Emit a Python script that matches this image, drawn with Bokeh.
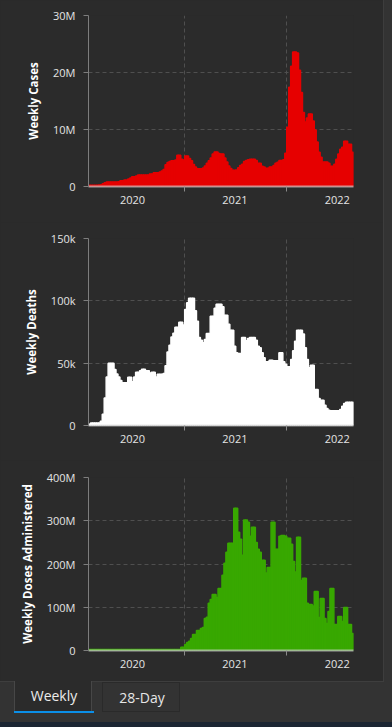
import pandas as pd
from bokeh.plotting import figure
from bokeh.models import Range1d, FixedTicker, Div, GlobalInlineStyleSheet
from bokeh.layouts import column, row
from bokeh.embed import file_html
from bokeh.resources import INLINE

# ---------------- data ----------------
week_start = "2020-01-26"   # first weekly bar

cases_m = [
    0.2, 0.2, 0.2, 0.2, 0.2, 0.25, 0.3, 0.47, 0.64, 0.8,
    0.8, 0.8, 0.8, 0.8, 0.8, 0.85, 1.0, 1.0, 1.16, 1.16,
    1.3, 1.5, 1.7, 1.7, 1.86, 2.0, 2.0, 2.0, 2.0, 2.0,
    2.0, 2.2, 2.2, 2.4, 2.4, 2.4, 2.56, 2.7, 3.0, 3.8,
    4.2, 4.4, 4.5, 4.5, 4.65, 5.5, 5.5, 4.8, 4.65, 5.35,
    5.35, 4.9, 4.5, 3.85, 3.4, 3.1, 3.1, 3.1, 3.25, 3.6,
    4.1, 4.5, 5.0, 5.7, 6.05, 6.05, 5.8, 5.7, 5.7, 5.0,
    4.3, 3.6, 3.15, 2.87, 2.87, 2.9, 3.3, 3.7, 3.9, 4.4,
    4.55, 4.7, 4.8, 4.8, 4.8, 4.55, 4.1, 4.1, 3.55, 3.4,
    3.2, 3.2, 3.4, 3.4, 3.7, 4.1, 4.25, 4.55, 4.55, 4.7,
    5.85, 10.4, 17.4, 21.1, 23.6, 23.6, 23.4, 20.4, 16.5, 13.0,
    11.3, 12.0, 12.7, 12.7, 11.5, 9.9, 7.8, 6.0, 5.15, 4.3,
    4.3, 4.3, 4.1, 3.55, 3.55, 3.9, 4.8, 5.7, 6.55, 6.9,
    7.95, 7.95, 7.4, 7.4, 6.0,
]

deaths_k = [
    1.1, 2.1, 2.1, 2.1, 2.1, 2.1, 3.5, 9, 22, 39,
    50, 50, 50, 45, 41.4, 39, 36, 34.2, 34.2, 34.2,
    38.8, 38.8, 35, 39, 42.8, 42.8, 44, 45.2, 45.2, 43.9,
    43.9, 42.2, 42.8, 42.8, 39, 41.2, 41.2, 41.2, 41.7, 47.9,
    59, 64.4, 70.9, 74, 78.9, 78.9, 82.9, 82.9, 80.7, 93,
    98.4, 102, 102, 102, 92, 83.7, 70.6, 68.4, 66.3, 69,
    73.8, 73.8, 87.7, 87.7, 94, 97.3, 97.3, 97.3, 95.2, 88.5,
    88.5, 81.3, 76.5, 76.5, 63.6, 58.3, 57.8, 57.8, 70.6, 70.6,
    67.9, 69.8, 70.6, 70.6, 70.6, 68.4, 63.6, 62.3, 58.3, 54.3,
    51.1, 51.1, 52.4, 52.4, 51.9, 51.9, 51.9, 58.3, 58.3, 51.1,
    49.2, 47.1, 47.1, 52.9, 59.9, 67.6, 76.5, 76.5, 76.5, 73.3,
    62.3, 52.9, 46.3, 48.4, 48.4, 28.9, 28.9, 21.7, 20.3, 20.3,
    16.3, 13.6, 12.3, 11.8, 11.8, 11.8, 11.8, 11.8, 12.8, 15.5,
    17.6, 18.7, 18.7, 18.7, 18.7,
]

doses_m = [
    2.5, 2.5, 2.5, 2.5, 2.5, 2.5, 2.5, 2.5, 2.5, 2.5,
    2.5, 2.5, 2.5, 2.5, 2.5, 2.5, 2.5, 2.5, 2.5, 2.5,
    2.5, 2.5, 2.5, 2.5, 2.5, 2.5, 2.5, 2.5, 2.5, 2.5,
    2.5, 2.5, 2.5, 2.5, 2.5, 2.5, 2.5, 2.5, 2.5, 2.5,
    2.5, 2.5, 2.5, 2.5, 2.5, 2.5, 2.5, 7.7, 7.7, 14,
    18.5, 21.6, 27.8, 37, 37, 46.3, 46.3, 51, 53.3, 74,
    77, 109, 118, 129.7, 129.7, 122.8, 143.6, 143.6, 173.7, 201.5,
    227, 247.9, 247.9, 247.9, 329, 329, 273.4, 257, 220, 301.9,
    301.9, 296.5, 264, 285, 285, 250, 234, 227, 208.5, 208.5,
    179, 192, 192, 296.5, 296.5, 234, 234, 264, 266, 266,
    264, 259.5, 259.5, 245.6, 206, 181.5, 261.8, 261.8, 162, 166.8,
    166.8, 109, 106.6, 106.6, 102.7, 136.7, 136.7, 76.4, 120.5, 120.5,
    74, 62.5, 90.3, 143.6, 143.6, 60.2, 60.2, 78.8, 78.8, 67.2,
    99.6, 99.6, 60.2, 60.2, 39.4,
]

x_label_dates = ["2020-07-01", "2021-07-01", "2022-07-01"]
x_label_text = ["2020", "2021", "2022"]
x_grid_dates = ["2021-01-01", "2022-01-01"]

cases_ticks = [0, 10, 20, 30]
cases_tick_text = ["0", "10M", "20M", "30M"]
deaths_ticks = [0, 50, 100, 150]
deaths_tick_text = ["0", "50k", "100k", "150k"]
doses_ticks = [0, 100, 200, 300, 400]
doses_tick_text = ["0", "100M", "200M", "300M", "400M"]

# ---------------- style ----------------
BG = "#2b2b2b"
FONT = "Open Sans"
start = pd.Timestamp(week_start)


def day_of(d):
    return int((pd.Timestamp(d) - start).days)


label_days = [day_of(d) for d in x_label_dates]
grid_days = [day_of(d) for d in x_grid_dates]


def make(values, color, ticks, tick_text, title, height, left, top, bottom):
    n = len(values)
    xs = [7 * i + 3.5 for i in range(n)]
    p = figure(width=383, height=height, output_backend="svg", toolbar_location=None,
               x_range=Range1d(0, 7 * n), y_range=Range1d(ticks[0], ticks[-1]),
               min_border_left=left, min_border_right=30, min_border_top=top,
               min_border_bottom=bottom)
    p.background_fill_color = BG
    p.border_fill_color = BG
    p.outline_line_color = None

    p.vbar(x=xs, top=values, width=7.0, bottom=0, fill_color=color,
           line_color=color, line_width=1.5)

    # x axis
    xa = p.xaxis[0]
    xa.ticker = FixedTicker(ticks=label_days, minor_ticks=grid_days)
    xa.major_label_overrides = dict(zip(label_days, x_label_text))
    xa.major_tick_line_color = None
    xa.major_tick_out = 0
    xa.major_tick_in = 0
    xa.minor_tick_out = 5
    xa.minor_tick_in = 0
    xa.minor_tick_line_color = "#8a8a8a"
    xa.axis_line_color = "#d8d8d8"
    xa.axis_line_alpha = 0.65
    xa.axis_line_width = 2
    xa.major_label_standoff = 4
    xa.major_label_text_font = FONT
    xa.major_label_text_font_size = "11px"
    xa.major_label_text_color = "#e4e4e4"

    # y axis
    ya = p.yaxis[0]
    ya.ticker = FixedTicker(ticks=ticks)
    ya.major_label_overrides = dict(zip(ticks, tick_text))
    ya.major_tick_out = 5
    ya.major_tick_in = 0
    ya.minor_tick_line_color = None
    ya.major_tick_line_color = "#7d7d7d"
    ya.axis_line_color = "#7d7d7d"
    ya.major_label_standoff = 8
    ya.major_label_text_font = FONT
    ya.major_label_text_font_size = "11px"
    ya.major_label_text_color = "#e4e4e4"
    ya.axis_label = title
    ya.axis_label_text_font = FONT
    ya.axis_label_text_font_size = "11.5px"
    ya.axis_label_text_font_style = "bold"
    ya.axis_label_text_color = "#ffffff"
    ya.axis_label_standoff = 9

    # grids
    p.xgrid.ticker = FixedTicker(ticks=grid_days)
    for g in (p.xgrid[0], p.ygrid[0]):
        g.grid_line_color = "#4f4f4f"
        g.grid_line_dash = "4 3"
        g.grid_line_width = 1
    return p


f1 = make(cases_m, "#e60000", cases_ticks, cases_tick_text, "Weekly Cases", 222, 83, 15, 36)
f2 = make(deaths_k, "#ffffff", deaths_ticks, deaths_tick_text, "Weekly Deaths", 238, 84, 16, 35)
f3 = make(doses_m, "#38a800", doses_ticks, doses_tick_text, "Weekly Doses Administered", 221, 88, 17, 31)

strip = Div(width=9, height=681, margin=0,
            text='<div style="width:9px;height:681px;background:#333333;'
                 'box-shadow:inset 1px 0 0 #3d3d3d;"></div>')

tabs_html = (
    '<div style="position:relative;width:392px;height:46px;background:#333333;'
    "font-family:'Open Sans',sans-serif;overflow:hidden;\">"
    '<div style="position:absolute;left:0;top:0;width:384px;height:1px;background:#3e3e3e;"></div>'
    '<div style="position:absolute;left:14px;top:0;width:78px;height:30px;background:#2b2b2b;'
    'border-left:1px solid #474747;border-right:1px solid #474747;"></div>'
    '<div style="position:absolute;left:14px;top:30px;width:80px;height:2px;background:#0b8fe8;"></div>'
    '<div style="position:absolute;left:14px;top:0;width:80px;height:30px;line-height:30px;'
    'text-align:center;color:#ececec;font-size:14px;">Weekly</div>'
    '<div style="position:absolute;left:102px;top:1px;width:78px;height:30px;'
    'border:1px solid #2a2a2a;"></div>'
    '<div style="position:absolute;left:102px;top:1px;width:80px;height:31px;line-height:31px;'
    'text-align:center;color:#e6e6e6;font-size:14px;">28-Day</div>'
    '<div style="position:absolute;left:0;top:41px;width:392px;height:5px;background:#1b2532;"></div>'
    '</div>'
)
tabs = Div(width=392, height=46, margin=0, text=tabs_html)

page_css = GlobalInlineStyleSheet(
    css="html, body { margin: 0 !important; padding: 0; background: #2b2b2b; overflow: hidden; }")

layout = column(row(column(f1, f2, f3), strip), tabs, stylesheets=[page_css])

open("out.html", "w").write(file_html(layout, INLINE))
